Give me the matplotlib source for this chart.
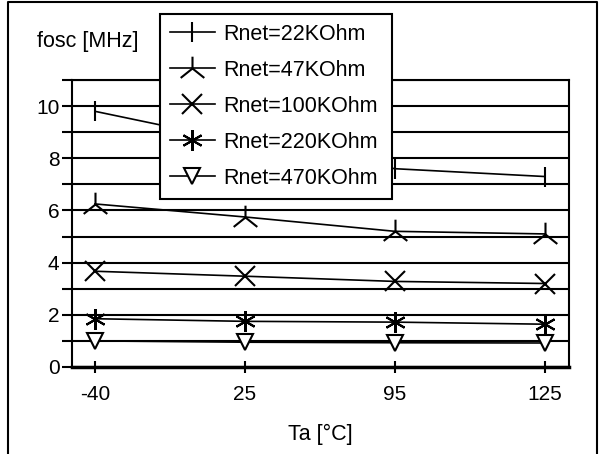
import matplotlib
matplotlib.use("Agg")
import matplotlib.pyplot as plt
from matplotlib.lines import Line2D
from matplotlib.path import Path

# データ
temps = ["-40", "25", "95", "125"]
labels = ["Rnet=22KOhm", "Rnet=47KOhm", "Rnet=100KOhm", "Rnet=220KOhm", "Rnet=470KOhm"]
f22 = [9.8, 8.6, 7.6, 7.3]
f47 = [6.25, 5.75, 5.2, 5.1]
f100 = [3.67, 3.48, 3.28, 3.2]
f220 = [1.85, 1.75, 1.72, 1.64]
f470 = [1.0, 0.95, 0.93, 0.92]
ytick_vals = list(range(0, 12))
ytick_labels = ["0", "", "2", "", "4", "", "6", "", "8", "", "10", ""]

plt.rcParams['font.family'] = ['Liberation Sans', 'DejaVu Sans']
plt.rcParams['font.size'] = 15

fig = plt.figure(figsize=(6.03, 4.54), dpi=100)
ax = fig.add_axes([72/603, 1-367/454, (569-72)/603, (367-80)/454])

# 外枠
fig.add_artist(Line2D([8/603, 8/603, 597/603, 597/603], [0, 1-1.5/454, 1-1.5/454, 0],
                      transform=fig.transFigure, color="black", lw=1.5))

# 人の字マーカー
tri = Path([(0, 0), (0, 1), (0, 0), (-1, -0.8), (0, 0), (1, -0.8)],
           [Path.MOVETO, Path.LINETO, Path.MOVETO, Path.LINETO, Path.MOVETO, Path.LINETO])

x = range(len(temps))
series = [f22, f47, f100, f220, f470]
markers = ["|", tri, "x", (6, 2, 0), "v"]
sizes = [14, 17, 14, 15, 11]
for s, m, ms, lab in zip(series, markers, sizes, labels):
    ax.plot(x, s, color="black", lw=1.2, marker=m, markersize=ms, markeredgewidth=1.5,
            markerfacecolor="white", markeredgecolor="black", label=lab, zorder=3)

ax.set_xlim(-0.153, 3.16)
ax.set_ylim(0, 11)
ax.set_xticks(list(x))
ax.set_xticklabels(temps)
ax.set_yticks(ytick_vals)
ax.set_yticklabels(ytick_labels)
ax.yaxis.grid(True, color="black", lw=1.5)
ax.set_axisbelow(True)
ax.tick_params(axis="y", direction="out", length=7.5, width=1.5, pad=1.5)
ax.tick_params(axis="x", direction="inout", length=8, width=1.5, pad=9)
for sp in ["left", "right", "top"]:
    ax.spines[sp].set_linewidth(1.5)
ax.spines["bottom"].set_linewidth(2.5)

ax.set_xlabel("Ta [°C]", fontsize=15.5, labelpad=14)
fig.text(37/603, 1-47/454, "fosc [MHz]", fontsize=15.5, ha="left", va="baseline")

leg = ax.legend(loc="upper left", bbox_to_anchor=(160/603, 1-197/454, 232/603, 183/454),
                bbox_transform=fig.transFigure, mode="expand",
                borderaxespad=0, fancybox=False, framealpha=1, edgecolor="black", fontsize=15.5,
                handlelength=2.1, labelspacing=0.7, borderpad=0.45, handletextpad=0.4)
leg.get_frame().set_linewidth(1.5)
leg.set_zorder(5)

plt.savefig("out.png", dpi=100)
